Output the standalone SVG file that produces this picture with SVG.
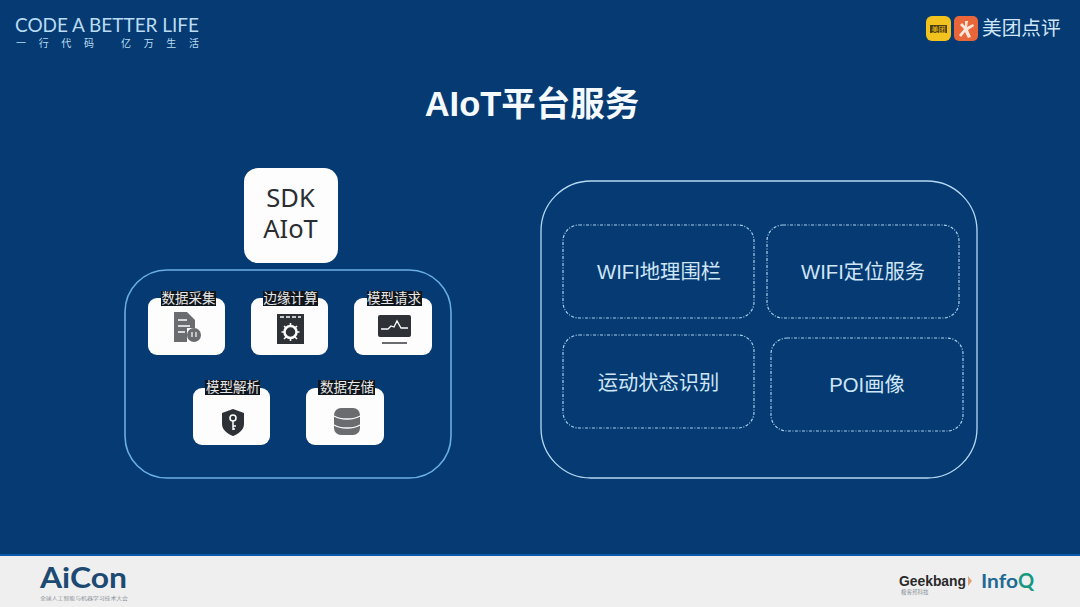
<svg xmlns="http://www.w3.org/2000/svg" width="1080" height="607" viewBox="0 0 1080 607">
<style>
text{font-family:"Liberation Sans","Noto Sans CJK SC",sans-serif}
.cjk{font-family:"Noto Sans","Noto Sans CJK SC",sans-serif}
.lato{font-family:Lato,"Liberation Sans",sans-serif}
.outer{fill:none;stroke:#b5d8f2;stroke-width:1.3}
.outerL{fill:none;stroke:#6aaee4;stroke-width:1.6}
.dash{fill:none;stroke:#a9d0ee;stroke-width:1.2;stroke-dasharray:3 1.5 1 1.5}
.svc{font-size:20.3px;fill:#cfe6f7;text-anchor:middle}
.card{fill:#fdfdfd}
.lblbg{fill:#10161e}
.lbl{font-size:13.5px;fill:#e8e8e8;text-anchor:middle}
.ic{fill:#6a6c70}
.icd{fill:#2e3236}
</style>
<rect id="background" width="1080" height="607" fill="#053a72"/>
<g id="header-left">
<text x="15" y="32" font-size="19" fill="#b9dcf3" class="lato" textLength="184" lengthAdjust="spacing">CODE A BETTER LIFE</text>
<text x="16" y="47" font-size="10" fill="#b9dcf3" class="cjk" textLength="78" lengthAdjust="spacing">一行代码</text>
<text x="121" y="47" font-size="10" fill="#b9dcf3" class="cjk" textLength="78" lengthAdjust="spacing">亿万生活</text>
</g>
<g id="header-right">
<rect x="926" y="16" width="25" height="25" rx="6" fill="#f2c21e"/>
<rect x="930" y="25" width="17" height="8" fill="#4c3f12"/>
<text x="938.500" y="32" font-size="7" fill="#f2c21e" text-anchor="middle" class="cjk">美团</text>
<rect x="954" y="16" width="24" height="25" rx="5" fill="#e8663a"/>
<path d="M965 21l3 0-1 6 6-3 1 2-6 4 3 7-3 1-3-6-4 5-2-2 5-6-4-4 2-2 3 3z" fill="#fbe6d8"/>
<text x="982" y="35" font-size="19.700" fill="#cfe6f7" class="cjk">美团点评</text>
</g>
<text id="title" x="532" y="116" font-size="34.500" font-weight="bold" fill="#f4fafd" text-anchor="middle">AIoT平台服务</text>
<g id="sdk">
<rect x="244" y="168" width="94" height="95" rx="14" fill="#fdfdfd"/>
<text x="290.500" y="207" font-size="25.500" fill="#2a2e33" text-anchor="middle" class="cjk">SDK</text>
<text x="290.500" y="238" font-size="25.500" fill="#2a2e33" text-anchor="middle" class="cjk">AIoT</text>
</g>
<g id="sdk-panel"><rect x="125" y="270" width="326" height="208" rx="42" class="outerL"/></g>
<g id="node-collect">
<rect x="148" y="298" width="77" height="57" rx="9" class="card"/>
<rect x="161" y="291" width="55" height="15" class="lblbg"/>
<text x="188.500" y="303" class="lbl">数据采集</text>
<path d="M174 312h13l8 8v8h-8v14h-13z" class="ic"/>
<circle cx="194" cy="335" r="7" class="ic"/>
<path d="M178 320h9M178 326h12M178 332h7" stroke="#fdfdfd" stroke-width="1.500" fill="none"/>
<path d="M192 332v5M196 332v5" stroke="#fdfdfd" stroke-width="1.200" fill="none"/>
</g>
<g id="node-edge">
<rect x="251" y="298" width="77" height="57" rx="9" class="card"/>
<rect x="263" y="291" width="55" height="15" class="lblbg"/>
<text x="290.500" y="303" class="lbl">边缘计算</text>
<rect x="277" y="314" width="27" height="30" class="icd"/>
<path d="M280 317h4M286 317h4M292 317h4M298 317h3" stroke="#fdfdfd" stroke-width="1.500" fill="none"/>
<circle cx="290.500" cy="332" r="6" fill="none" stroke="#fdfdfd" stroke-width="2.500"/>
<path d="M290.500 323v3M290.500 338v3M281.500 332h3M296.500 332h3M284 326l2 2M295 337l2 2M297 326l-2 2M286 337l-2 2" stroke="#fdfdfd" stroke-width="1.600" fill="none"/>
</g>
<g id="node-request">
<rect x="354" y="298" width="78" height="57" rx="9" class="card"/>
<rect x="367" y="291" width="55" height="15" class="lblbg"/>
<text x="394" y="303" class="lbl">模型请求</text>
<rect x="378" y="315" width="33" height="22" rx="2" class="icd"/>
<path d="M381 329h7l3-3 3 1 3-6 4 7h7" stroke="#fdfdfd" stroke-width="1.300" fill="none"/>
<rect x="382" y="342" width="25" height="2" class="ic"/>
</g>
<g id="node-parse">
<rect x="193" y="388" width="77" height="57" rx="9" class="card"/>
<rect x="205" y="380" width="55" height="15" class="lblbg"/>
<text x="233" y="392" class="lbl">模型解析</text>
<path d="M233 409l11 4v11c0 6-6 10-11 12-5-2-11-6-11-12v-11z" class="icd"/>
<circle cx="233" cy="418" r="3" fill="none" stroke="#fdfdfd" stroke-width="1.600"/>
<path d="M233 421v9M233 426h3M233 429h2" stroke="#fdfdfd" stroke-width="1.500" fill="none"/>
</g>
<g id="node-store">
<rect x="306" y="388" width="78" height="57" rx="9" class="card"/>
<rect x="318" y="380" width="57" height="15" class="lblbg"/>
<text x="347" y="392" class="lbl">数据存储</text>
<rect x="334" y="408" width="26" height="27" rx="7" class="ic"/>
<path d="M334 416c6 4 20 4 26 0M334 425c6 4 20 4 26 0" stroke="#fdfdfd" stroke-width="1.300" fill="none"/>
</g>
<g id="services-panel"><rect x="541" y="181" width="436" height="297" rx="50" class="outer"/></g>
<g id="svc-geofence">
<rect x="563" y="225" width="191" height="93" rx="16" class="dash"/>
<text x="659" y="279" class="svc">WIFI地理围栏</text>
</g>
<g id="svc-location">
<rect x="767" y="225" width="192" height="93" rx="16" class="dash"/>
<text x="863" y="279" class="svc">WIFI定位服务</text>
</g>
<g id="svc-motion">
<rect x="563" y="335" width="191" height="93" rx="16" class="dash"/>
<text x="658.500" y="390" class="svc">运动状态识别</text>
</g>
<g id="svc-poi">
<rect x="771" y="338" width="192" height="93" rx="16" class="dash"/>
<text x="867" y="392" class="svc">POI画像</text>
</g>
<g id="footer">
<rect y="555" width="1080" height="52" fill="#efeff0"/>
<rect y="554" width="1080" height="2" fill="#0a5ca8"/>
<text x="40" y="588" font-size="28" font-weight="bold" fill="#1d4a72" class="lato" textLength="87" lengthAdjust="spacingAndGlyphs">AiCon</text>
<text x="40" y="599.500" font-size="5" fill="#8a8f96" class="cjk" textLength="88" lengthAdjust="spacingAndGlyphs">全球人工智能与机器学习技术大会</text>
<text x="899" y="586" font-size="14.500" font-weight="bold" fill="#2a2a2a" textLength="67" lengthAdjust="spacingAndGlyphs">Geekbang</text>
<path d="M968 576l4 5-4 5z" fill="#d9a27a"/>
<text x="901" y="593.500" font-size="5.500" fill="#8a8f96" class="cjk">极客邦科技</text>
<text x="981" y="588" font-size="19" font-weight="bold" fill="#1f6a94" class="lato" textLength="37" lengthAdjust="spacingAndGlyphs">Info</text>
<text x="1018" y="588" font-size="20" font-weight="bold" fill="#18987f" class="lato">Q</text>
</g>
</svg>
